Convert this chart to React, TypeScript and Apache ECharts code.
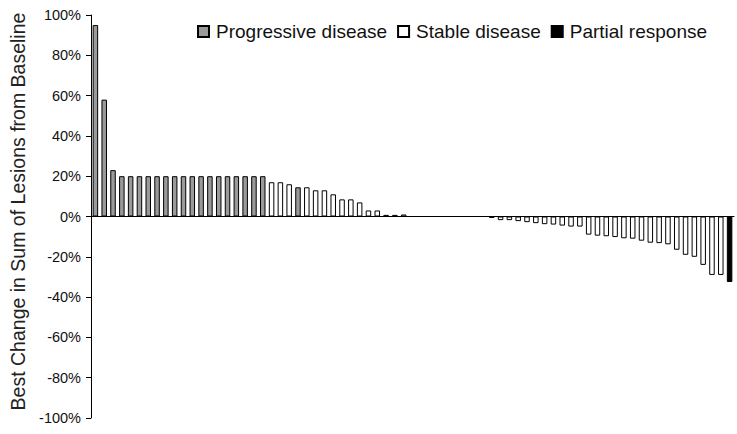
import React, { useEffect, useRef } from "react";
import * as echarts from "echarts";

// Best change in sum of lesions from baseline (%), one value per patient, sorted
const bestChange: number[] = [
  95, 58, 23, 20, 20, 20, 20, 20, 20, 20,
  20, 20, 20, 20, 20, 20, 20, 20, 20, 20,
  17, 17, 16, 14.5, 14.5, 13, 13, 11, 8.5, 8.5,
  7, 3, 3, 0.8, 0.8, 1, 0, 0, 0, 0,
  0, 0, 0, 0, 0, -0.7, -1.8, -1.8, -2.3, -2.8,
  -3.3, -3.8, -4.0, -4.5, -5.0, -5.0, -9.0, -9.5, -9.8, -10.2,
  -10.8, -11.0, -12.0, -13.0, -13.2, -13.8, -16.5, -19.0, -20.0, -24.0,
  -29.0, -29.0, -32.5,
];

// Response category per patient: PD = progressive, SD = stable, PR = partial
const response: string[] = [
  "PD", "PD", "PD", "PD", "PD", "PD", "PD", "PD", "PD", "PD",
  "PD", "PD", "PD", "PD", "PD", "PD", "PD", "PD", "PD", "PD",
  "SD", "SD", "SD", "PD", "SD", "SD", "SD", "SD", "SD", "SD",
  "SD", "SD", "SD", "SD", "SD", "SD", "SD", "SD", "SD", "SD",
  "SD", "SD", "SD", "SD", "SD", "SD", "SD", "SD", "SD", "SD",
  "SD", "SD", "SD", "SD", "SD", "SD", "SD", "SD", "SD", "SD",
  "SD", "SD", "SD", "SD", "SD", "SD", "SD", "SD", "SD", "SD",
  "SD", "SD", "PR",
];

const patients: string[] = bestChange.map((_, i) => `Pt ${i + 1}`);

const groups = [
  { code: "PD", name: "Progressive disease", color: "#9a9a9a" },
  { code: "SD", name: "Stable disease", color: "#ffffff" },
  { code: "PR", name: "Partial response", color: "#000000" },
];

const yTicks = { min: -100, max: 100, interval: 20 };

export default function App() {
  const ref = useRef<HTMLDivElement>(null);

  useEffect(() => {
    if (!ref.current) return;
    const chart = echarts.init(ref.current, undefined, { renderer: "svg" });
    const font = "Liberation Sans, Arial, sans-serif";
    chart.setOption({
      animation: false,
      backgroundColor: "#ffffff",
      grid: { left: 91, right: 3, top: 15, bottom: 16, containLabel: false },
      legend: {
        left: 192,
        top: 17,
        itemWidth: 11,
        itemHeight: 11,
        itemGap: 10,
        icon: "rect",
        textStyle: { fontFamily: font, fontSize: 19, color: "#111", padding: [0, 0, 0, 2] },
        data: groups.map((g) => g.name),
      },
      xAxis: {
        type: "category",
        data: patients,
        axisLine: { show: true, onZero: true, lineStyle: { color: "#000", width: 1 } },
        axisTick: { show: false },
        axisLabel: { show: false },
        splitLine: { show: false },
      },
      yAxis: {
        type: "value",
        min: yTicks.min,
        max: yTicks.max,
        interval: yTicks.interval,
        name: "Best Change in Sum of Lesions from Baseline",
        nameLocation: "middle",
        nameRotate: 90,
        nameGap: 63,
        nameTextStyle: {
          fontFamily: font,
          fontSize: 19.5,
          color: "#222",
          padding: [0, 0, 0, 10],
        },
        axisLine: { show: true, lineStyle: { color: "#000", width: 1 } },
        axisTick: { show: true, inside: false, length: 5, lineStyle: { color: "#000" } },
        axisLabel: {
          margin: 10,
          fontFamily: font,
          fontSize: 14.5,
          color: "#111",
          formatter: (v: number) => `${v}%`,
        },
        splitLine: { show: false },
      },
      series: groups.map((g) => ({
        name: g.name,
        type: "bar",
        stack: "all",
        barWidth: 5.5,
        itemStyle: { color: g.color, borderColor: "#000", borderWidth: 1 },
        data: bestChange.map((v, i) => (response[i] === g.code ? v : "-")),
      })),
    });
    return () => chart.dispose();
  }, []);

  return (
    <div
      ref={ref}
      style={{ position: "fixed", left: 0, top: 0, width: 737, height: 434 }}
    />
  );
}
